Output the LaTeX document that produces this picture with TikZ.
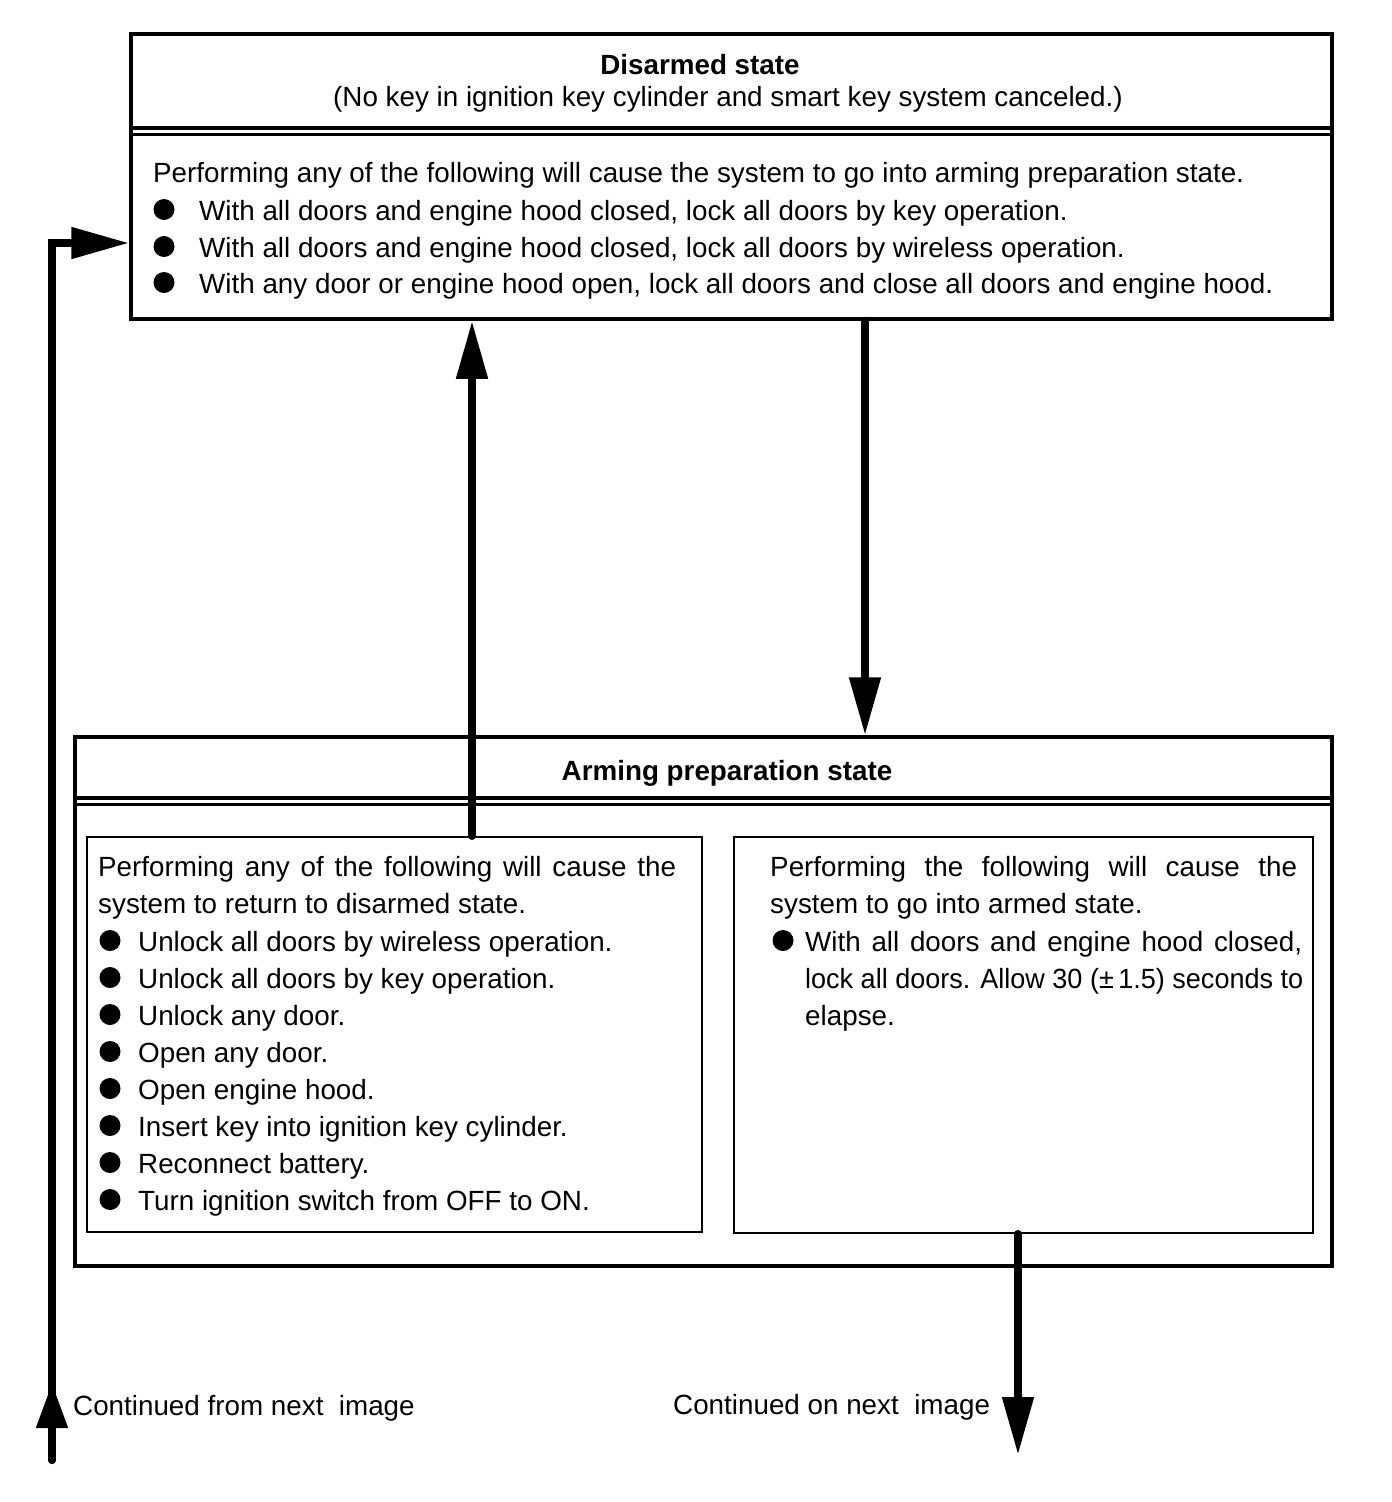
\documentclass[tikz,border=0pt]{standalone}
\usepackage{fontspec}
\setmainfont{Liberation Sans}
\usetikzlibrary{positioning,calc,arrows.meta}

\newcommand{\sz}{\fontsize{27.8}{34}\selectfont}

\tikzset{
  statebox/.style={draw, line width=3.5pt, inner sep=0pt},
  listbox/.style={draw, line width=2pt, inner sep=0pt},
  flow/.style={line width=8pt, line cap=round, -{Triangle[length=58pt,width=30pt]}},
  txt/.style={anchor=base west, inner sep=0pt, font=\sz},
  head/.style={anchor=base, inner sep=0pt, font=\sz\bfseries},
  dot/.style={circle, fill, inner sep=0pt, minimum size=21pt},
}

\begin{document}
\begin{tikzpicture}[x=1pt,y=-1pt]
		\useasboundingbox (0,0) rectangle (1392,1502);

		\node[statebox, minimum width=1201pt, minimum height=285pt] (disarmed) at (731.5,176.5) {};
		\node[statebox, minimum width=1257pt, minimum height=529pt] (arming) at (703.5,1001.5) {};
		\node[listbox, minimum width=615pt, minimum height=395pt] (back) at (394.5,1034.5) {};
		\node[listbox, minimum width=579pt, minimum height=396pt] (ahead) at (1023.5,1035) {};

		\draw[line width=3.5pt] (131,128) -- (1332,128);
		\draw[line width=3pt] (131,134) -- (1332,134);
		\draw[line width=3.5pt] (75,798) -- (1332,798);
		\draw[line width=3pt] (75,804) -- (1332,804);

		\node[head] (dtitle) at (700,74) {Disarmed state};
		\node[head, font=\sz] (dsub) at (728,106) {(No key in ignition key cylinder and smart key system canceled.)};
		\node[txt] (d0) at (153,182) {Performing any of the following will cause the system to go into arming preparation state.};
		\node[dot] (db1) at (164,209.5) {};
		\node[txt] (d1) at (199,220) {With all doors and engine hood closed, lock all doors by key operation.};
		\node[dot] (db2) at (164,246.5) {};
		\node[txt] (d2) at (199,257) {With all doors and engine hood closed, lock all doors by wireless operation.};
		\node[dot] (db3) at (164,282.5) {};
		\node[txt] (d3) at (199,293) {With any door or engine hood open, lock all doors and close all doors and engine hood.};

		\node[head] (atitle) at (727,780) {Arming preparation state};

		\node[txt] (b0) at (98,876) {\makebox[578pt][s]{Performing any of the following will cause the}};
		\node[txt] (b1) at (98,913) {system to return to disarmed state.};
		\node[dot] (bb2) at (110,940.5) {};
		\node[txt] (b2) at (138,951) {Unlock all doors by wireless operation.};
		\node[dot] (bb3) at (110,977.5) {};
		\node[txt] (b3) at (138,988) {Unlock all doors by key operation.};
		\node[dot] (bb4) at (110,1014.5) {};
		\node[txt] (b4) at (138,1025) {Unlock any door.};
		\node[dot] (bb5) at (110,1051.5) {};
		\node[txt] (b5) at (138,1062) {Open any door.};
		\node[dot] (bb6) at (110,1088.5) {};
		\node[txt] (b6) at (138,1099) {Open engine hood.};
		\node[dot] (bb7) at (110,1125.5) {};
		\node[txt] (b7) at (138,1136) {Insert key into ignition key cylinder.};
		\node[dot] (bb8) at (110,1162.5) {};
		\node[txt] (b8) at (138,1173) {Reconnect battery.};
		\node[dot] (bb9) at (110,1199.5) {};
		\node[txt] (b9) at (138,1210) {Turn ignition switch from OFF to ON.};

		\node[txt] (a0) at (770,876) {\makebox[527pt][s]{Performing the following will cause the}};
		\node[txt] (a1) at (770,913) {system to go into armed state.};
		\node[dot] (ab2) at (783,940.5) {};
		\node[txt] (a2) at (805,951) {\makebox[497pt][s]{With all doors and engine hood closed,}};
		\node[txt] (a3) at (805,988) {\resizebox{498pt}{\height}{lock all doors. Allow 30 (±\,1.5) seconds to}};
		\node[txt] (a4) at (805,1025) {elapse.};

		\node[txt] (fromlbl) at (73,1415) {Continued from next~ image};
		\node[txt] (onlbl) at (673,1414) {Continued on next~ image};

		\coordinate (upx) at (472,0);
		\coordinate (downx) at (865,0);
		\coordinate (outx) at (1018,0);
		\coordinate (outend) at (1018,1455);
		\coordinate (inbeg) at (52,1460);
		\coordinate (intip) at (52,1383);
		\coordinate (loopy) at (0,243);

		\draw[flow] (back.north -| upx) -- (disarmed.south -| upx);
		\draw[flow] (disarmed.south -| downx) -- (arming.north -| downx);
		\draw[flow] (ahead.south -| outx) -- (outend);
		\draw[flow, line join=miter] (inbeg) |- (disarmed.west |- loopy);
		\draw[flow, -{Triangle[length=45pt,width=30pt]}] (inbeg) -- (intip);
	\end{tikzpicture}
\end{document}
